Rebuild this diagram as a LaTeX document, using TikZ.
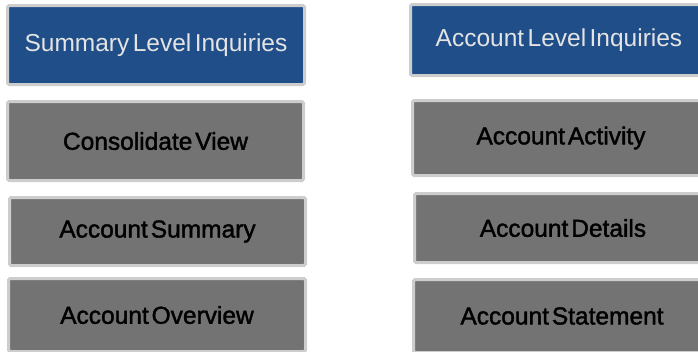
\documentclass[tikz,border=0pt]{standalone}
\usepackage{fontspec}
\setmainfont{Liberation Sans}
\newfontfamily\heavyfont[FakeBold=1.6]{Liberation Sans}
\definecolor{hdrblue}{HTML}{1F4E89}
\definecolor{boxgray}{HTML}{737373}
\definecolor{rim}{HTML}{CDCDCD}
\definecolor{hdrtext}{HTML}{E4E4E4}
\newcommand{\hdrfont}{\fontsize{24.5}{27}\selectfont\spaceskip=0.14em plus 0.05em\relax}
\newcommand{\itemfont}{\heavyfont\fontsize{24.5}{27}\selectfont\spaceskip=0.12em plus 0.05em\relax}
\begin{document}
\begin{tikzpicture}[x=1pt,y=-1pt,
  basebox/.style={draw=rim, line width=3pt, rounded corners=1.5pt, inner sep=0pt},
  hdr/.style={basebox, fill=hdrblue, text=hdrtext, font=\hdrfont},
  item/.style={basebox, fill=boxgray, text=black, font=\itemfont}]
\useasboundingbox (0,0) rectangle (698,351);
\clip (0,0) rectangle (698,351);
% left column
\node[hdr,  minimum width=297pt, minimum height=79pt] (l1) at (156,45)    {Summary Level Inquiries};
\node[item, minimum width=296pt, minimum height=79pt] (l2) at (155.5,141) {Consolidate View};
\node[item, minimum width=296pt, minimum height=68pt] (l3) at (157.5,231.5) {Account Summary};
\node[item, minimum width=297pt, minimum height=73pt] (l4) at (157,315)   {Account Overview};
% right column
\node[hdr,  minimum width=297pt, minimum height=71pt] (r1) at (559,40)    {Account Level Inquiries};
\node[item, minimum width=297pt, minimum height=75pt] (r2) at (561,138)   {Account Activity};
\node[item, minimum width=297pt, minimum height=69pt] (r3) at (563,228)   {Account Details};
\node[item, minimum width=297pt, minimum height=73pt] (r4) at (562,316)   {Account Statement};
\end{tikzpicture}
\end{document}
